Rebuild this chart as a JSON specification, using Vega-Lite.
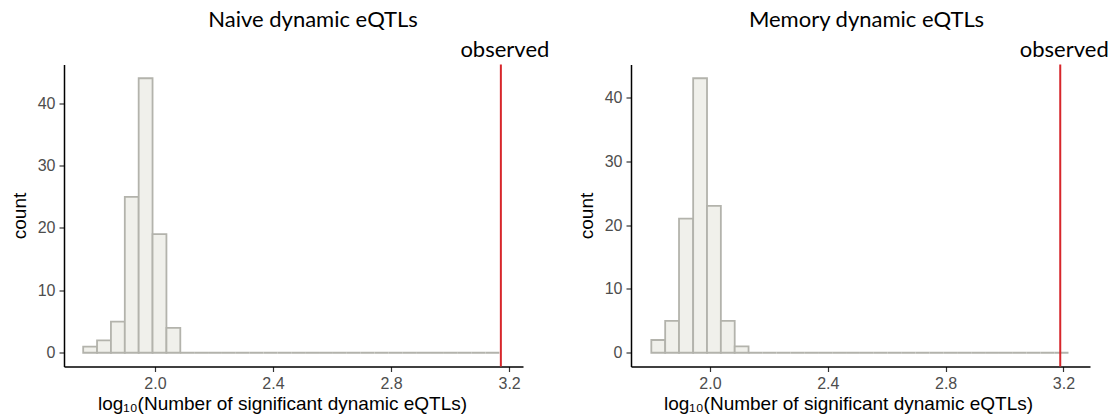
{
  "$schema": "https://vega.github.io/schema/vega-lite/v6.json",
  "padding": {"left": 10, "top": 8.5, "right": 0, "bottom": 0},
  "background": "white",
  "config": {
    "view": {"stroke": null},
    "axis": {
      "grid": false,
      "domainColor": "black",
      "domainWidth": 1.5,
      "tickColor": "#333333",
      "tickWidth": 1.2,
      "tickSize": 5,
      "labelFont": "Liberation Sans",
      "labelFontSize": 16,
      "labelColor": "#4d4d4d",
      "labelPadding": 4,
      "titleFont": "Liberation Sans",
      "titleFontSize": 19,
      "titleFontWeight": "normal",
      "titleColor": "black"
    },
    "title": {"font": "Lato", "fontSize": 22, "fontWeight": "normal", "color": "black", "frame": "group", "anchor": "middle", "offset": 6.5}
  },
  "datasets": {
    "naive": [
      {"bin_start": 1.757, "bin_end": 1.804, "count": 1},
      {"bin_start": 1.804, "bin_end": 1.851, "count": 2},
      {"bin_start": 1.851, "bin_end": 1.898, "count": 5},
      {"bin_start": 1.898, "bin_end": 1.945, "count": 25},
      {"bin_start": 1.945, "bin_end": 1.992, "count": 44},
      {"bin_start": 1.992, "bin_end": 2.039, "count": 19},
      {"bin_start": 2.039, "bin_end": 2.086, "count": 4},
      {"bin_start": 2.086, "bin_end": 2.133, "count": 0},
      {"bin_start": 2.133, "bin_end": 2.180, "count": 0},
      {"bin_start": 2.180, "bin_end": 2.227, "count": 0},
      {"bin_start": 2.227, "bin_end": 2.274, "count": 0},
      {"bin_start": 2.274, "bin_end": 2.321, "count": 0},
      {"bin_start": 2.321, "bin_end": 2.368, "count": 0},
      {"bin_start": 2.368, "bin_end": 2.415, "count": 0},
      {"bin_start": 2.415, "bin_end": 2.462, "count": 0},
      {"bin_start": 2.462, "bin_end": 2.509, "count": 0},
      {"bin_start": 2.509, "bin_end": 2.556, "count": 0},
      {"bin_start": 2.556, "bin_end": 2.603, "count": 0},
      {"bin_start": 2.603, "bin_end": 2.650, "count": 0},
      {"bin_start": 2.650, "bin_end": 2.697, "count": 0},
      {"bin_start": 2.697, "bin_end": 2.744, "count": 0},
      {"bin_start": 2.744, "bin_end": 2.791, "count": 0},
      {"bin_start": 2.791, "bin_end": 2.838, "count": 0},
      {"bin_start": 2.838, "bin_end": 2.885, "count": 0},
      {"bin_start": 2.885, "bin_end": 2.932, "count": 0},
      {"bin_start": 2.932, "bin_end": 2.979, "count": 0},
      {"bin_start": 2.979, "bin_end": 3.026, "count": 0},
      {"bin_start": 3.026, "bin_end": 3.073, "count": 0},
      {"bin_start": 3.073, "bin_end": 3.120, "count": 0},
      {"bin_start": 3.120, "bin_end": 3.167, "count": 0}
    ],
    "memory": [
      {"bin_start": 1.801, "bin_end": 1.848, "count": 2},
      {"bin_start": 1.848, "bin_end": 1.895, "count": 5},
      {"bin_start": 1.895, "bin_end": 1.943, "count": 21},
      {"bin_start": 1.943, "bin_end": 1.990, "count": 43},
      {"bin_start": 1.990, "bin_end": 2.037, "count": 23},
      {"bin_start": 2.037, "bin_end": 2.084, "count": 5},
      {"bin_start": 2.084, "bin_end": 2.131, "count": 1},
      {"bin_start": 2.131, "bin_end": 2.179, "count": 0},
      {"bin_start": 2.179, "bin_end": 2.226, "count": 0},
      {"bin_start": 2.226, "bin_end": 2.273, "count": 0},
      {"bin_start": 2.273, "bin_end": 2.320, "count": 0},
      {"bin_start": 2.320, "bin_end": 2.367, "count": 0},
      {"bin_start": 2.367, "bin_end": 2.415, "count": 0},
      {"bin_start": 2.415, "bin_end": 2.462, "count": 0},
      {"bin_start": 2.462, "bin_end": 2.509, "count": 0},
      {"bin_start": 2.509, "bin_end": 2.556, "count": 0},
      {"bin_start": 2.556, "bin_end": 2.603, "count": 0},
      {"bin_start": 2.603, "bin_end": 2.651, "count": 0},
      {"bin_start": 2.651, "bin_end": 2.698, "count": 0},
      {"bin_start": 2.698, "bin_end": 2.745, "count": 0},
      {"bin_start": 2.745, "bin_end": 2.792, "count": 0},
      {"bin_start": 2.792, "bin_end": 2.839, "count": 0},
      {"bin_start": 2.839, "bin_end": 2.887, "count": 0},
      {"bin_start": 2.887, "bin_end": 2.934, "count": 0},
      {"bin_start": 2.934, "bin_end": 2.981, "count": 0},
      {"bin_start": 2.981, "bin_end": 3.028, "count": 0},
      {"bin_start": 3.028, "bin_end": 3.075, "count": 0},
      {"bin_start": 3.075, "bin_end": 3.122, "count": 0},
      {"bin_start": 3.122, "bin_end": 3.170, "count": 0},
      {"bin_start": 3.170, "bin_end": 3.217, "count": 0}
    ],
    "naive_obs": [{"observed": 3.172, "label": "observed"}],
    "memory_obs": [{"observed": 3.189, "label": "observed"}]
  },
  "bounds": "flush",
  "spacing": 108,
  "hconcat": [
    {
      "title": {"text": "Naive dynamic eQTLs", "dx": 19.5},
      "width": 459,
      "height": 302,
      "layer": [
        {
          "data": {"name": "naive"},
          "mark": {"type": "rect", "fill": "#f0f0eb", "stroke": "#b3b3ac", "strokeWidth": 1.8},
          "encoding": {
            "x": {"field": "bin_start", "type": "quantitative", "scale": {"domain": [1.692, 3.247], "nice": false, "zero": false},
              "axis": {"values": [2.0, 2.4, 2.8, 3.2], "format": ".1f", "title": "log₁₀(Number of significant dynamic eQTLs)", "titleX": 218, "titlePadding": 3}},
            "x2": {"field": "bin_end"},
            "y": {"field": "count", "type": "quantitative", "scale": {"domain": [-2.2, 46.2], "nice": false, "zero": false},
              "axis": {"values": [0, 10, 20, 30, 40], "title": "count", "titlePadding": 8}},
            "y2": {"datum": 0}
          }
        },
        {
          "data": {"name": "naive_obs"},
          "mark": {"type": "rule", "color": "#d7262b", "strokeWidth": 2},
          "encoding": {"x": {"field": "observed", "type": "quantitative"}}
        },
        {
          "data": {"name": "naive_obs"},
          "mark": {"type": "text", "font": "Lato", "fontSize": 22, "color": "black", "align": "center", "baseline": "alphabetic", "dx": 4, "dy": -8, "clip": false},
          "encoding": {
            "x": {"field": "observed", "type": "quantitative"},
            "y": {"datum": 46.2},
            "text": {"field": "label"}
          }
        }
      ]
    },
    {
      "title": {"text": "Memory dynamic eQTLs", "dx": 6},
      "width": 459,
      "height": 302,
      "layer": [
        {
          "data": {"name": "memory"},
          "mark": {"type": "rect", "fill": "#f0f0eb", "stroke": "#b3b3ac", "strokeWidth": 1.8},
          "encoding": {
            "x": {"field": "bin_start", "type": "quantitative", "scale": {"domain": [1.732, 3.290], "nice": false, "zero": false},
              "axis": {"values": [2.0, 2.4, 2.8, 3.2], "format": ".1f", "title": "log₁₀(Number of significant dynamic eQTLs)", "titleX": 217, "titlePadding": 3}},
            "x2": {"field": "bin_end"},
            "y": {"field": "count", "type": "quantitative", "scale": {"domain": [-2.15, 45.15], "nice": false, "zero": false},
              "axis": {"values": [0, 10, 20, 30, 40], "title": "count", "titlePadding": 8}},
            "y2": {"datum": 0}
          }
        },
        {
          "data": {"name": "memory_obs"},
          "mark": {"type": "rule", "color": "#d7262b", "strokeWidth": 2},
          "encoding": {"x": {"field": "observed", "type": "quantitative"}}
        },
        {
          "data": {"name": "memory_obs"},
          "mark": {"type": "text", "font": "Lato", "fontSize": 22, "color": "black", "align": "center", "baseline": "alphabetic", "dx": 4, "dy": -8, "clip": false},
          "encoding": {
            "x": {"field": "observed", "type": "quantitative"},
            "y": {"datum": 45.15},
            "text": {"field": "label"}
          }
        }
      ]
    }
  ]
}
